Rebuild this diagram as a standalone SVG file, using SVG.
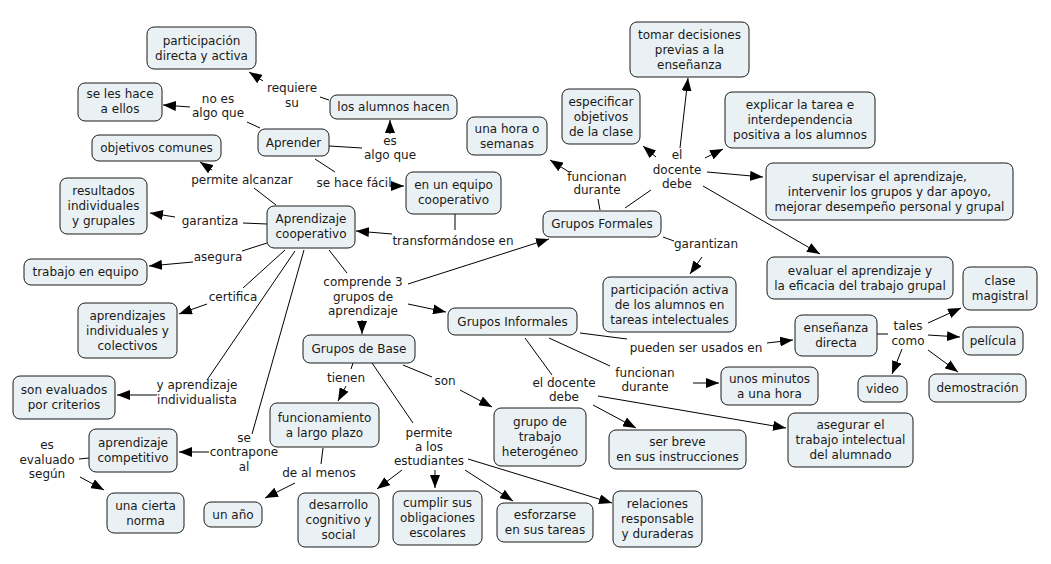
<svg xmlns="http://www.w3.org/2000/svg" width="1051" height="564" viewBox="0 0 1051 564">
<defs>
<marker id="ah" markerUnits="userSpaceOnUse" markerWidth="13" markerHeight="10" refX="13" refY="5" orient="auto"><path d="M0,0 L13,5 L0,10 Z" fill="#000"/></marker>
<style>
.n rect{fill:#EAF1F4;stroke:#1a1a1a;stroke-width:1}
text{font-family:"DejaVu Sans",Verdana,sans-serif;font-size:12px;fill:#1a1a1a;text-anchor:middle}
.c line{stroke:#000;stroke-width:1}
.c line.a{marker-end:url(#ah)}
</style>
</defs>
<rect width="1051" height="564" fill="#fff"/>
<g class="c">
<line x1="320" y1="97" x2="329" y2="100"/>
<line x1="260" y1="128" x2="247" y2="122"/>
<line x1="329" y1="146" x2="362" y2="148"/>
<line x1="315" y1="159" x2="335" y2="172"/>
<line x1="455" y1="214" x2="455" y2="230"/>
<line x1="276" y1="205" x2="254" y2="188"/>
<line x1="267" y1="224" x2="243" y2="223"/>
<line x1="267" y1="243" x2="242" y2="251"/>
<line x1="285" y1="250" x2="243" y2="288"/>
<line x1="295" y1="251" x2="207" y2="380"/>
<line x1="304" y1="250" x2="252" y2="434"/>
<line x1="329" y1="250" x2="347" y2="273"/>
<line x1="89" y1="458" x2="79" y2="459"/>
<line x1="600" y1="210" x2="598" y2="199"/>
<line x1="625" y1="208" x2="651" y2="190"/>
<line x1="663" y1="237" x2="674" y2="241"/>
<line x1="580" y1="333" x2="627" y2="339"/>
<line x1="549" y1="338" x2="610" y2="366"/>
<line x1="525" y1="338" x2="552" y2="375"/>
<line x1="877" y1="334" x2="888" y2="334"/>
<line x1="353" y1="363" x2="351" y2="369"/>
<line x1="323" y1="448" x2="321" y2="464"/>
<line x1="403" y1="365" x2="432" y2="377"/>
<line x1="372" y1="363" x2="413" y2="423"/>
<line class="a" x1="263" y1="81" x2="249" y2="72"/>
<line class="a" x1="190" y1="107" x2="163" y2="105"/>
<line class="a" x1="390" y1="134" x2="390" y2="120"/>
<line class="a" x1="390" y1="186" x2="404" y2="186"/>
<line class="a" x1="392" y1="234" x2="356" y2="231"/>
<line class="a" x1="212" y1="170" x2="200" y2="162"/>
<line class="a" x1="175" y1="217" x2="150" y2="213"/>
<line class="a" x1="193" y1="262" x2="149" y2="266"/>
<line class="a" x1="207" y1="304" x2="179" y2="314"/>
<line class="a" x1="157" y1="395" x2="117" y2="395"/>
<line class="a" x1="209" y1="452" x2="179" y2="452"/>
<line class="a" x1="80" y1="477" x2="104" y2="490"/>
<line class="a" x1="408" y1="284" x2="549" y2="239"/>
<line class="a" x1="408" y1="304" x2="446" y2="312"/>
<line class="a" x1="362" y1="320" x2="362" y2="334"/>
<line class="a" x1="569" y1="172" x2="550" y2="160"/>
<line class="a" x1="680" y1="148" x2="688" y2="78"/>
<line class="a" x1="656" y1="157" x2="643" y2="146"/>
<line class="a" x1="705" y1="158" x2="723" y2="149"/>
<line class="a" x1="707" y1="172" x2="763" y2="177"/>
<line class="a" x1="703" y1="186" x2="820" y2="254"/>
<line class="a" x1="702" y1="257" x2="690" y2="274"/>
<line class="a" x1="767" y1="343" x2="793" y2="340"/>
<line class="a" x1="928" y1="323" x2="961" y2="308"/>
<line class="a" x1="928" y1="335" x2="960" y2="337"/>
<line class="a" x1="902" y1="349" x2="892" y2="374"/>
<line class="a" x1="928" y1="350" x2="958" y2="372"/>
<line class="a" x1="693" y1="383" x2="719" y2="383"/>
<line class="a" x1="593" y1="405" x2="636" y2="428"/>
<line class="a" x1="598" y1="396" x2="786" y2="428"/>
<line class="a" x1="346" y1="386" x2="338" y2="401"/>
<line class="a" x1="295" y1="483" x2="265" y2="498"/>
<line class="a" x1="460" y1="390" x2="492" y2="407"/>
<line class="a" x1="402" y1="470" x2="377" y2="489"/>
<line class="a" x1="435" y1="470" x2="435" y2="488"/>
<line class="a" x1="465" y1="470" x2="513" y2="501"/>
<line class="a" x1="468" y1="459" x2="612" y2="503"/>
</g>
<g id="labels">
<text x="292" y="92">requiere</text><text x="292" y="107">su</text>
<text x="218" y="103">no es</text><text x="218" y="117">algo que</text>
<text x="390" y="145">es</text><text x="390" y="159">algo que</text>
<text x="354" y="187">se hace fácil</text>
<text x="242" y="184">permite alcanzar</text>
<text x="210" y="225">garantiza</text>
<text x="218" y="261">asegura</text>
<text x="233" y="301">certifica</text>
<text x="453" y="245">transformándose en</text>
<text x="363" y="286">comprende 3</text><text x="363" y="301">grupos de</text><text x="363" y="315">aprendizaje</text>
<text x="197" y="389">y aprendizaje</text><text x="197" y="404">individualista</text>
<text x="244" y="442">se</text><text x="244" y="456">contrapone</text><text x="244" y="471">al</text>
<text x="47" y="449">es</text><text x="47" y="464">evaluado</text><text x="47" y="478">según</text>
<text x="346" y="382">tienen</text>
<text x="319" y="477">de al menos</text>
<text x="445" y="385">son</text>
<text x="429" y="437">permite</text><text x="429" y="451">a los</text><text x="429" y="465">estudiantes</text>
<text x="564" y="387">el docente</text><text x="564" y="401">debe</text>
<text x="645" y="377">funcionan</text><text x="645" y="391">durante</text>
<text x="696" y="352">pueden ser usados en</text>
<text x="597" y="181">funcionan</text><text x="597" y="194">durante</text>
<text x="677" y="159">el</text><text x="677" y="174">docente</text><text x="677" y="188">debe</text>
<text x="706" y="248">garantizan</text>
<text x="908" y="330">tales</text><text x="908" y="345">como</text>
</g>
<g id="n1" class="n"><rect x="147" y="27" width="109" height="42" rx="7"/><text x="201.5" y="45">participación</text><text x="201.5" y="60">directa y activa</text></g>
<g id="n2" class="n"><rect x="78" y="83" width="84" height="38" rx="7"/><text x="120" y="98">se les hace</text><text x="120" y="113">a ellos</text></g>
<g id="n3" class="n"><rect x="92" y="135" width="129" height="26" rx="7"/><text x="156.5" y="152">objetivos comunes</text></g>
<g id="n4" class="n"><rect x="258" y="129" width="71" height="27" rx="7"/><text x="293.5" y="146.5">Aprender</text></g>
<g id="n5" class="n"><rect x="330" y="95" width="127" height="24" rx="7"/><text x="393.5" y="111">los alumnos hacen</text></g>
<g id="n6" class="n"><rect x="60" y="178" width="87" height="56" rx="7"/><text x="103.5" y="195">resultados</text><text x="103.5" y="210">individuales</text><text x="103.5" y="225">y grupales</text></g>
<g id="n7" class="n"><rect x="267" y="206" width="88" height="42" rx="7"/><text x="311" y="223">Aprendizaje</text><text x="311" y="238">cooperativo</text></g>
<g id="n8" class="n"><rect x="406" y="172" width="95" height="42" rx="7"/><text x="453.5" y="189">en un equipo</text><text x="453.5" y="204">cooperativo</text></g>
<g id="n9" class="n"><rect x="24" y="259" width="123" height="26" rx="7"/><text x="85.5" y="276">trabajo en equipo</text></g>
<g id="n10" class="n"><rect x="78" y="303" width="99" height="55" rx="7"/><text x="127.5" y="319.5">aprendizajes</text><text x="127.5" y="334.5">individuales y</text><text x="127.5" y="349.5">colectivos</text></g>
<g id="n11" class="n"><rect x="13" y="376" width="102" height="43" rx="7"/><text x="64" y="394">son evaluados</text><text x="64" y="409">por criterios</text></g>
<g id="n12" class="n"><rect x="89" y="429" width="88" height="43" rx="7"/><text x="133" y="447">aprendizaje</text><text x="133" y="462">competitivo</text></g>
<g id="n13" class="n"><rect x="107" y="493" width="77" height="40" rx="7"/><text x="145.5" y="509.5">una cierta</text><text x="145.5" y="524.5">norma</text></g>
<g id="n14" class="n"><rect x="204" y="502" width="58" height="25" rx="7"/><text x="233" y="519">un año</text></g>
<g id="n15" class="n"><rect x="270" y="403" width="109" height="44" rx="7"/><text x="324.5" y="421.5">funcionamiento</text><text x="324.5" y="436.5">a largo plazo</text></g>
<g id="n16" class="n"><rect x="298" y="493" width="81" height="54" rx="7"/><text x="338.5" y="509">desarrollo</text><text x="338.5" y="524">cognitivo y</text><text x="338.5" y="539">social</text></g>
<g id="n17" class="n"><rect x="393" y="491" width="89" height="54" rx="7"/><text x="437.5" y="507">cumplir sus</text><text x="437.5" y="522">obligaciones</text><text x="437.5" y="537">escolares</text></g>
<g id="n18" class="n"><rect x="497" y="503" width="96" height="39" rx="7"/><text x="545" y="519">esforzarse</text><text x="545" y="534">en sus tareas</text></g>
<g id="n19" class="n"><rect x="613" y="491" width="89" height="56" rx="7"/><text x="657.5" y="508">relaciones</text><text x="657.5" y="523">responsable</text><text x="657.5" y="538">y duraderas</text></g>
<g id="n20" class="n"><rect x="494" y="408" width="92" height="58" rx="7"/><text x="540" y="426">grupo de</text><text x="540" y="441">trabajo</text><text x="540" y="456">heterogéneo</text></g>
<g id="n21" class="n"><rect x="303" y="335" width="112" height="28" rx="7"/><text x="359" y="353">Grupos de Base</text></g>
<g id="n22" class="n"><rect x="448" y="308" width="129" height="27" rx="7"/><text x="512.5" y="325.5">Grupos Informales</text></g>
<g id="n23" class="n"><rect x="543" y="211" width="118" height="26" rx="7"/><text x="602" y="228">Grupos Formales</text></g>
<g id="n24" class="n"><rect x="467" y="117" width="80" height="38" rx="7"/><text x="507" y="132.5">una hora o</text><text x="507" y="147.5">semanas</text></g>
<g id="n25" class="n"><rect x="562" y="89" width="78" height="55" rx="7"/><text x="601" y="105.5">especificar</text><text x="601" y="120.5">objetivos</text><text x="601" y="135.5">de la clase</text></g>
<g id="n26" class="n"><rect x="630" y="22" width="119" height="55" rx="7"/><text x="689.5" y="38.5">tomar decisiones</text><text x="689.5" y="53.5">previas a la</text><text x="689.5" y="68.5">enseñanza</text></g>
<g id="n27" class="n"><rect x="725" y="92" width="150" height="56" rx="7"/><text x="800" y="109">explicar la tarea e</text><text x="800" y="124">interdependencia</text><text x="800" y="139">positiva a los alumnos</text></g>
<g id="n28" class="n"><rect x="766" y="163" width="247" height="57" rx="7"/><text x="889.5" y="180.5">supervisar el aprendizaje,</text><text x="889.5" y="195.5">intervenir los grupos y dar apoyo,</text><text x="889.5" y="210.5">mejorar desempeño personal y grupal</text></g>
<g id="n29" class="n"><rect x="767" y="257" width="186" height="42" rx="7"/><text x="860" y="274.5">evaluar el aprendizaje y</text><text x="860" y="289.5">la eficacia del trabajo grupal</text></g>
<g id="n30" class="n"><rect x="603" y="277" width="133" height="55" rx="7"/><text x="669.5" y="293.5">participación activa</text><text x="669.5" y="308.5">de los alumnos en</text><text x="669.5" y="323.5">tareas intelectuales</text></g>
<g id="n31" class="n"><rect x="795" y="315" width="82" height="41" rx="7"/><text x="836" y="332">enseñanza</text><text x="836" y="347">directa</text></g>
<g id="n32" class="n"><rect x="963" y="267" width="74" height="43" rx="7"/><text x="1000" y="285">clase</text><text x="1000" y="300">magistral</text></g>
<g id="n33" class="n"><rect x="963" y="327" width="60" height="28" rx="7"/><text x="993" y="345">película</text></g>
<g id="n34" class="n"><rect x="858" y="376" width="49" height="26" rx="7"/><text x="882.5" y="393">video</text></g>
<g id="n35" class="n"><rect x="929" y="374" width="97" height="28" rx="7"/><text x="977.5" y="392">demostración</text></g>
<g id="n36" class="n"><rect x="721" y="367" width="97" height="38" rx="7"/><text x="769.5" y="382.5">unos minutos</text><text x="769.5" y="397.5">a una hora</text></g>
<g id="n37" class="n"><rect x="609" y="430" width="137" height="39" rx="7"/><text x="677.5" y="446">ser breve</text><text x="677.5" y="461">en sus instrucciones</text></g>
<g id="n38" class="n"><rect x="788" y="413" width="125" height="54" rx="7"/><text x="850.5" y="429">asegurar el</text><text x="850.5" y="444">trabajo intelectual</text><text x="850.5" y="459">del alumnado</text></g>
</svg>
